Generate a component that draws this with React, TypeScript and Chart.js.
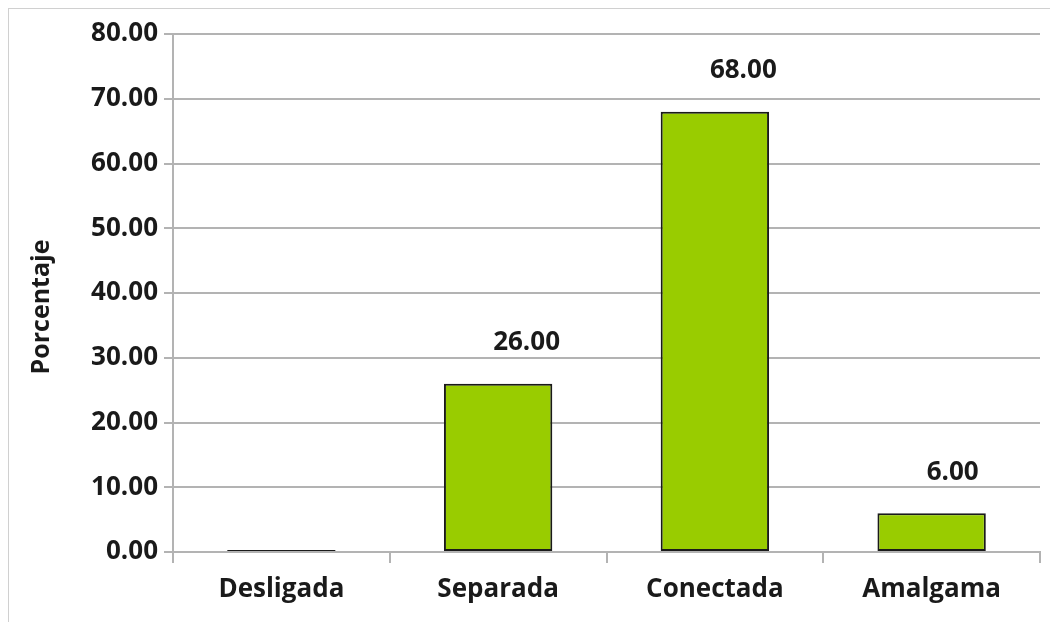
import React, { useEffect, useRef } from "react";
import { Chart, registerables } from "chart.js";

Chart.register(...registerables);

const categories = ["Desligada", "Separada", "Conectada", "Amalgama"];
const values = [0, 26, 68, 6];
const yTitle = "Porcentaje";

const FONT = "'Open Sans', 'DejaVu Sans', sans-serif";

const valueLabels = {
  id: "valueLabels",
  afterDatasetsDraw(chart: any) {
    const ctx = chart.ctx;
    const meta = chart.getDatasetMeta(0);
    ctx.save();
    ctx.font = `bold 26px ${FONT}`;
    ctx.fillStyle = "#1a1a1a";
    ctx.textAlign = "left";
    ctx.textBaseline = "middle";
    meta.data.forEach((el: any, i: number) => {
      const v = values[i];
      if (!v) return;
      ctx.fillText(v.toFixed(2), el.x - 5, el.y - 41);
    });
    ctx.restore();
  },
};

const yTitlePlugin = {
  id: "yTitlePlugin",
  afterDraw(chart: any) {
    const ctx = chart.ctx;
    const area = chart.chartArea;
    ctx.save();
    ctx.font = `bold 25px ${FONT}`;
    ctx.fillStyle = "#1a1a1a";
    ctx.textAlign = "center";
    ctx.textBaseline = "middle";
    ctx.translate(33, (area.top + area.bottom) / 2 + 14);
    ctx.rotate(-Math.PI / 2);
    ctx.fillText(yTitle, 0, 0);
    ctx.restore();
  },
};

export default function App() {
  const ref = useRef<HTMLCanvasElement>(null);
  useEffect(() => {
    document.body.style.overflow = "hidden";
    const chart = new Chart(ref.current!, {
      type: "bar",
      data: {
        labels: categories,
        datasets: [
          {
            data: values,
            backgroundColor: "#99cc00",
            borderColor: "#1a1a1a",
            borderWidth: 2,
            borderSkipped: false,
            minBarLength: 2,
            categoryPercentage: 1,
            barPercentage: 0.5,
          },
        ],
      },
      options: {
        animation: false,
        responsive: false,
        maintainAspectRatio: false,
        layout: { padding: { top: 25, right: 10, left: 0, bottom: 0 } },
        plugins: { legend: { display: false }, tooltip: { enabled: false } },
        scales: {
          x: {
            grid: {
              offset: true,
              drawOnChartArea: false,
              drawTicks: true,
              tickLength: 11,
              color: "#b3b3b3",
              lineWidth: 2,
            },
            border: { display: true, color: "#b3b3b3", width: 2 },
            ticks: {
              color: "#1a1a1a",
              font: { family: FONT, size: 26, weight: "bold" },
              padding: 11,
            },
            afterFit: (s: any) => {
              s.height = 70;
            },
          },
          y: {
            min: 0,
            max: 80,
            ticks: {
              stepSize: 10,
              color: "#1a1a1a",
              font: { family: FONT, size: 26, weight: "bold" },
              padding: 6,
              callback: (v: any) => Number(v).toFixed(2),
            },
            grid: { color: "#b3b3b3", lineWidth: 2, tickLength: 9 },
            border: { display: true, color: "#b3b3b3", width: 2 },
            afterFit: (s: any) => {
              s.width = 164;
            },
          },
        },
      },
      plugins: [valueLabels, yTitlePlugin],
    });
    return () => chart.destroy();
  }, []);
  return (
    <div
      style={{
        width: 1042,
        height: 614,
        borderTop: "1px solid #d0d0d0",
        borderLeft: "1px solid #d0d0d0",
        boxSizing: "border-box",
        background: "#fff",
      }}
    >
      <canvas ref={ref} width={1041} height={613} style={{ display: "block" }} />
    </div>
  );
}
